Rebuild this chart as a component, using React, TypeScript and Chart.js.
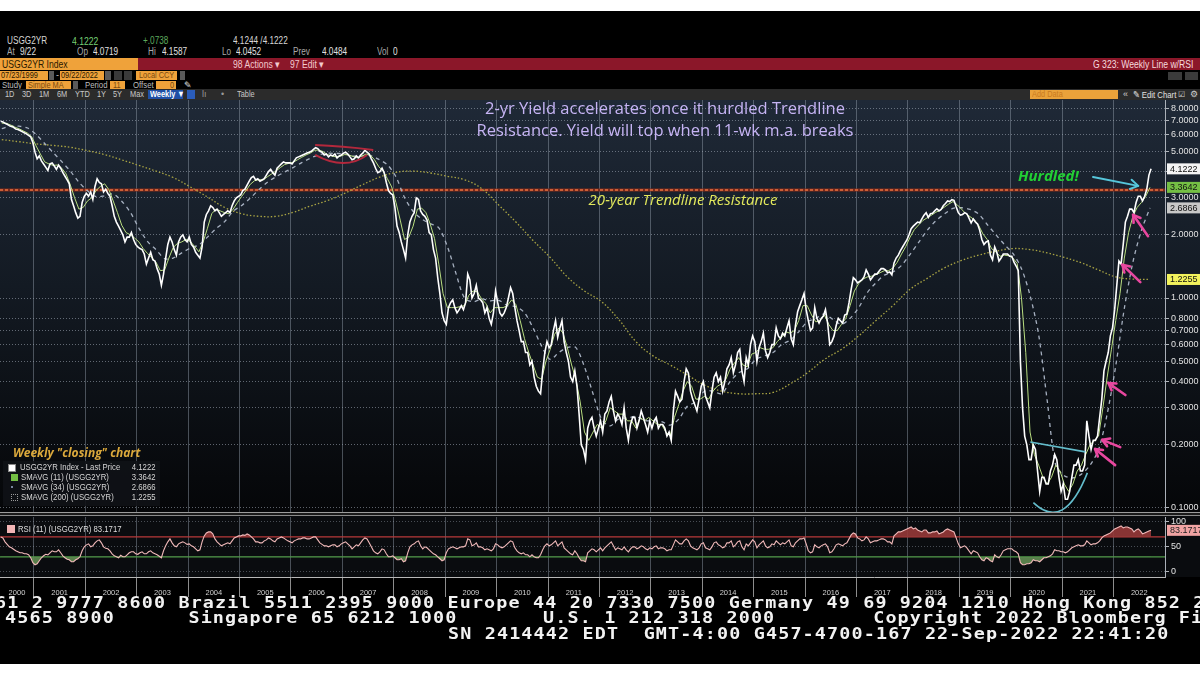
import React, { useEffect, useRef } from 'react';
import { Chart, registerables } from 'chart.js';

Chart.register(...registerables);

// ---------------- data (readings from May 2000 to Sep 2022) ----------------
const START_YEAR = 2000;
const START_MONTH = 5;

// 2-yr yield, two readings per month
const PRICE = [
  6.95, 6.90, 6.80, 6.72, 6.62, 6.55, 6.50, 6.38, 6.35, 6.28, 6.20, 6.12, 6.05, 5.95, 5.85, 5.50,
  4.95, 4.60, 4.75, 4.50, 4.35, 4.20, 4.05, 4.35, 4.40, 4.25, 4.10, 4.30, 4.15, 3.95, 3.80, 3.65, 3.50, 2.95, 2.75, 2.55, 2.40, 2.45, 2.85, 3.05,
  3.15, 3.05, 3.20, 2.95, 3.40, 3.70, 3.55, 3.50, 3.20, 3.30, 3.15, 3.05, 2.75, 2.45, 2.30, 2.20, 2.10, 2.00, 1.85, 1.95, 1.95, 2.05, 1.90, 1.80,
  1.75, 1.72, 1.70, 1.62, 1.45, 1.55, 1.65, 1.52, 1.50, 1.38, 1.30, 1.15, 1.30, 1.55, 1.80, 1.95, 1.85, 1.70, 1.60, 1.85, 1.95, 2.00, 1.90, 1.85,
  1.95, 1.80, 1.75, 1.65, 1.60, 1.55, 1.75, 2.30, 2.50, 2.60, 2.75, 2.70, 2.60, 2.65, 2.55, 2.45, 2.50, 2.55, 2.60, 2.55, 2.75, 2.90, 3.00, 3.05,
  3.10, 3.25, 3.30, 3.45, 3.60, 3.75, 3.80, 3.65, 3.70, 3.60, 3.65, 3.70, 3.85, 4.00, 4.10, 3.95, 3.85, 4.15, 4.25, 4.35, 4.45, 4.40, 4.40, 4.40,
  4.35, 4.50, 4.65, 4.70, 4.75, 4.80, 4.85, 4.90, 4.95, 5.00, 5.10, 5.20, 5.15, 5.00, 4.95, 4.80, 4.85, 4.70, 4.80, 4.75, 4.85, 4.65, 4.75, 4.80,
  4.90, 4.95, 4.85, 4.70, 4.55, 4.60, 4.75, 4.65, 4.80, 4.90, 5.05, 4.95, 4.85, 4.60, 4.40, 4.15, 3.95, 4.00, 4.15, 3.95, 3.55, 3.25, 3.15, 3.10,
  2.70, 2.20, 2.05, 1.85, 1.70, 1.55, 2.00, 2.30, 2.45, 2.55, 3.00, 2.95, 2.60, 2.50, 2.45, 2.35, 2.05, 2.00, 1.70, 1.55, 1.25, 1.05, 0.85, 0.78,
  0.75, 0.90, 0.95, 0.98, 0.90, 0.85, 0.88, 0.92, 0.88, 0.95, 1.30, 1.22, 1.00, 1.05, 1.15, 1.00, 0.98, 0.95, 0.85, 0.90, 0.80, 0.75, 0.85, 1.08,
  0.95, 0.85, 0.82, 0.85, 0.90, 1.00, 1.12, 1.05, 0.90, 0.78, 0.70, 0.62, 0.62, 0.55, 0.55, 0.48, 0.50, 0.42, 0.38, 0.36, 0.35, 0.45, 0.55, 0.62,
  0.58, 0.60, 0.70, 0.78, 0.65, 0.72, 0.78, 0.62, 0.55, 0.50, 0.42, 0.40, 0.45, 0.38, 0.28, 0.20, 0.19, 0.17, 0.24, 0.26, 0.27, 0.24, 0.22, 0.24,
  0.26, 0.23, 0.28, 0.29, 0.32, 0.34, 0.29, 0.26, 0.28, 0.27, 0.25, 0.30, 0.24, 0.21, 0.25, 0.27, 0.27, 0.24, 0.26, 0.29, 0.27, 0.25, 0.23, 0.26,
  0.24, 0.26, 0.27, 0.24, 0.25, 0.25, 0.24, 0.22, 0.23, 0.21, 0.29, 0.36, 0.34, 0.32, 0.33, 0.40, 0.46, 0.44, 0.36, 0.33, 0.31, 0.29, 0.33, 0.38,
  0.40, 0.34, 0.32, 0.30, 0.36, 0.42, 0.44, 0.40, 0.42, 0.36, 0.40, 0.46, 0.48, 0.52, 0.44, 0.48, 0.55, 0.57, 0.45, 0.40, 0.52, 0.48, 0.60, 0.66,
  0.62, 0.50, 0.58, 0.62, 0.68, 0.56, 0.52, 0.55, 0.60, 0.60, 0.72, 0.66, 0.64, 0.68, 0.66, 0.72, 0.78, 0.64, 0.60, 0.74, 0.86, 0.92, 0.98, 1.05,
  0.88, 0.78, 0.70, 0.72, 0.90, 0.80, 0.76, 0.80, 0.82, 0.88, 0.76, 0.60, 0.62, 0.66, 0.74, 0.80, 0.78, 0.76, 0.83, 0.84, 0.95, 1.10, 1.25, 1.22,
  1.18, 1.20, 1.22, 1.26, 1.36, 1.30, 1.22, 1.26, 1.30, 1.30, 1.34, 1.38, 1.38, 1.36, 1.32, 1.33, 1.29, 1.47, 1.55, 1.60, 1.68, 1.75, 1.82, 1.89,
  2.00, 2.14, 2.20, 2.25, 2.30, 2.28, 2.38, 2.48, 2.55, 2.42, 2.52, 2.53, 2.60, 2.66, 2.60, 2.64, 2.75, 2.82, 2.90, 2.88, 2.94, 2.92, 2.72, 2.55,
  2.48, 2.50, 2.55, 2.52, 2.40, 2.28, 2.38, 2.30, 2.25, 2.10, 1.90, 1.80, 1.85, 1.87, 1.60, 1.52, 1.75, 1.65, 1.50, 1.55, 1.62, 1.62, 1.62, 1.58,
  1.58, 1.48, 1.42, 1.35, 0.50, 0.30, 0.22, 0.20, 0.17, 0.17, 0.20, 0.19, 0.15, 0.12, 0.14, 0.14, 0.13, 0.13, 0.15, 0.16, 0.18, 0.17, 0.14, 0.12,
  0.13, 0.11, 0.11, 0.12, 0.14, 0.16, 0.16, 0.17, 0.15, 0.15, 0.16, 0.26, 0.22, 0.19, 0.21, 0.21, 0.22, 0.27, 0.33, 0.45, 0.50, 0.55, 0.66, 0.72,
  0.88, 1.15, 1.50, 1.45, 1.80, 2.30, 2.45, 2.65, 2.65, 2.55, 2.85, 3.05, 3.05, 2.90, 3.05, 3.30, 3.85, 4.1222,
];

// 11-week simple moving average (one reading per month)
const SMA11 = [
  6.80, 6.80, 6.68, 6.52, 6.40, 6.25, 6.10, 5.85,
  5.30, 4.85, 4.45, 4.35, 4.28, 4.30, 4.15, 3.90, 3.45, 3.00, 2.65, 2.70,
  2.90, 3.00, 3.25, 3.40, 3.50, 3.28, 2.90, 2.55, 2.22, 2.05, 2.00, 1.93,
  1.85, 1.72, 1.63, 1.56, 1.48, 1.35, 1.36, 1.55, 1.74, 1.82, 1.85, 1.90,
  1.86, 1.76, 1.66, 1.85, 2.15, 2.52, 2.65, 2.60, 2.55, 2.52, 2.65, 2.85,
  3.05, 3.25, 3.48, 3.62, 3.66, 3.65, 3.78, 3.90, 4.03, 4.18, 4.32, 4.38,
  4.43, 4.55, 4.68, 4.80, 4.90, 5.05, 5.07, 4.98, 4.82, 4.75, 4.70, 4.73,
  4.82, 4.80, 4.72, 4.65, 4.73, 4.85, 4.80, 4.55, 4.22, 4.02, 3.70, 3.38,
  2.85, 2.35, 1.90, 1.95, 2.20, 2.65, 2.68, 2.55, 2.25, 1.92, 1.45, 1.05,
  0.90, 0.90, 0.90, 0.91, 0.92, 1.03, 1.08, 1.07, 0.99, 0.94, 0.85, 0.90,
  0.90, 0.90, 0.92, 0.98, 0.93, 0.78, 0.64, 0.55, 0.48, 0.42, 0.41, 0.50,
  0.57, 0.67, 0.72, 0.68, 0.58, 0.48, 0.41, 0.32, 0.23, 0.21, 0.23, 0.25,
  0.24, 0.26, 0.30, 0.29, 0.28, 0.28, 0.26, 0.26, 0.24, 0.27, 0.26, 0.27,
  0.26, 0.25, 0.25, 0.23, 0.22, 0.27, 0.31, 0.36, 0.40, 0.38, 0.33, 0.33,
  0.34, 0.33, 0.36, 0.38, 0.39, 0.41, 0.46, 0.49, 0.52, 0.48, 0.47, 0.54,
  0.55, 0.58, 0.57, 0.57, 0.58, 0.62, 0.65, 0.69, 0.68, 0.70, 0.78, 0.92,
  0.92, 0.83, 0.77, 0.78, 0.83, 0.75, 0.70, 0.70, 0.75, 0.80, 0.92, 1.08,
  1.17, 1.23, 1.26, 1.27, 1.29, 1.32, 1.35, 1.35, 1.39, 1.48, 1.62, 1.76,
  1.95, 2.12, 2.23, 2.34, 2.41, 2.48, 2.56, 2.62, 2.71, 2.80, 2.88, 2.78,
  2.65, 2.52, 2.44, 2.36, 2.22, 2.02, 1.90, 1.72, 1.66, 1.58, 1.60, 1.59,
  1.55, 1.46, 1.00, 0.55, 0.23, 0.18, 0.16, 0.14, 0.13, 0.14, 0.16, 0.15,
  0.13, 0.12, 0.13, 0.15, 0.16, 0.18, 0.20, 0.21, 0.22, 0.30, 0.42, 0.57,
  0.78, 1.05, 1.55, 2.05, 2.45, 2.70, 2.85, 3.05, 3.3642,
];

// 34-week simple moving average (one reading every 2 months)
const SMA34 = [
  6.40, 6.58, 6.58, 6.45,
  6.01, 5.44, 4.93, 4.46, 4.02, 3.56,
  3.24, 3.04, 3.07, 3.13, 2.89, 2.56,
  2.15, 1.86, 1.70, 1.54, 1.55, 1.64,
  1.73, 1.79, 1.95, 2.14, 2.31, 2.59,
  2.76, 2.99, 3.28, 3.56, 3.78, 3.98,
  4.18, 4.41, 4.63, 4.81, 4.89, 4.88,
  4.86, 4.74, 4.75, 4.77, 4.57, 4.31,
  3.78, 3.01, 2.59, 2.38, 2.26, 2.16,
  1.76, 1.31, 1.00, 0.96, 0.99, 0.97,
  0.975, 0.92, 0.91, 0.85, 0.72, 0.59,
  0.51, 0.55, 0.58, 0.58, 0.47, 0.35,
  0.265, 0.246, 0.266, 0.268, 0.273, 0.261,
  0.26, 0.258, 0.248, 0.265, 0.305, 0.32,
  0.36, 0.36, 0.35, 0.40, 0.44, 0.46,
  0.51, 0.53, 0.55, 0.60, 0.63, 0.69,
  0.77, 0.80, 0.84, 0.79, 0.75, 0.80,
  0.90, 1.06, 1.18, 1.285, 1.33, 1.43,
  1.615, 1.84, 2.10, 2.33, 2.51, 2.67,
  2.69, 2.64, 2.51, 2.24, 2.005, 1.80,
  1.63, 1.38, 1.03, 0.67, 0.325, 0.16,
  0.1425, 0.139, 0.145, 0.16, 0.19, 0.28,
  0.475, 0.89, 1.48, 2.10, 2.6866,
];

// 200-week simple moving average (one reading every 4 months)
const SMA200 = [
  5.68, 5.55,
  5.42, 5.33, 5.22,
  5.03, 4.82, 4.55,
  4.28, 4.02, 3.75,
  3.38, 3.03, 2.70,
  2.52, 2.45, 2.45,
  2.56, 2.74, 2.91,
  3.15, 3.45, 3.75,
  3.97, 4.02, 3.94,
  3.80, 3.66, 3.32,
  2.77, 2.30, 1.88,
  1.56, 1.26, 1.08,
  0.96, 0.79, 0.62,
  0.53, 0.48, 0.43,
  0.385, 0.36, 0.35,
  0.35, 0.355, 0.39,
  0.44, 0.51, 0.57,
  0.66, 0.78, 0.92,
  1.10, 1.24, 1.39,
  1.51, 1.60, 1.67,
  1.72, 1.70, 1.64,
  1.56, 1.47, 1.36,
  1.26, 1.23, 1.2255,
];

// 11-period RSI, two readings per month
const RSI = [
  70, 68, 60, 55, 50, 48, 45, 42, 40, 38, 38, 36, 36, 34, 28, 18,
  14, 16, 22, 28, 32, 35, 34, 38, 42, 40, 40, 44, 38, 32, 28, 25, 24, 20, 20, 24, 26, 30, 42, 50,
  54, 56, 50, 52, 58, 62, 64, 58, 50, 47, 46, 42, 36, 32, 30, 28, 33, 30, 30, 34, 38, 40, 40, 36,
  35, 38, 40, 36, 36, 40, 42, 38, 36, 34, 31, 28, 42, 52, 60, 66, 58, 52, 50, 56, 58, 60, 58, 55,
  56, 52, 50, 46, 42, 44, 60, 72, 78, 80, 80, 76, 66, 60, 56, 52, 54, 56, 58, 56, 62, 68, 70, 72,
  72, 74, 73, 76, 74, 70, 66, 60, 60, 58, 58, 62, 64, 68, 66, 62, 60, 66, 68, 70, 68, 65, 62, 60,
  58, 62, 64, 66, 66, 68, 68, 66, 66, 68, 70, 70, 64, 58, 55, 52, 52, 50, 52, 54, 54, 50, 52, 56,
  58, 60, 56, 52, 46, 50, 54, 52, 58, 64, 68, 66, 58, 50, 42, 38, 36, 40, 46, 44, 36, 30, 30, 32,
  28, 24, 24, 26, 20, 22, 38, 50, 54, 56, 60, 62, 52, 46, 50, 48, 44, 40, 36, 34, 30, 26, 22, 24,
  38, 46, 48, 50, 48, 46, 48, 50, 50, 52, 66, 64, 52, 54, 58, 50, 50, 48, 44, 46, 44, 42, 46, 56,
  54, 50, 48, 50, 54, 58, 62, 60, 48, 42, 38, 36, 38, 34, 34, 30, 34, 30, 28, 28, 34, 44, 52, 56,
  52, 54, 58, 62, 52, 56, 60, 48, 44, 40, 36, 34, 42, 36, 28, 22, 22, 20, 38, 42, 46, 44, 40, 44,
  48, 42, 48, 52, 56, 60, 52, 44, 48, 46, 44, 50, 44, 40, 46, 50, 50, 46, 48, 52, 50, 46, 44, 48,
  46, 50, 52, 46, 48, 48, 46, 42, 44, 44, 54, 64, 60, 56, 56, 62, 66, 62, 52, 48, 46, 44, 48, 56,
  58, 48, 46, 44, 50, 58, 60, 54, 52, 48, 50, 58, 58, 62, 50, 54, 60, 62, 50, 44, 56, 52, 58, 64,
  60, 48, 54, 58, 62, 52, 48, 50, 56, 54, 62, 58, 54, 58, 56, 60, 64, 52, 50, 58, 62, 66, 66, 68,
  56, 42, 38, 40, 54, 50, 48, 52, 54, 56, 50, 38, 40, 46, 54, 56, 54, 52, 56, 58, 66, 74, 78, 76,
  68, 66, 62, 64, 70, 66, 58, 60, 62, 62, 64, 66, 66, 64, 60, 60, 56, 72, 76, 80, 80, 82, 84, 86,
  88, 90, 86, 88, 84, 82, 80, 84, 84, 78, 78, 80, 80, 82, 76, 78, 80, 84, 86, 84, 82, 80, 68, 56,
  48, 50, 52, 48, 42, 36, 42, 40, 38, 30, 24, 22, 28, 26, 22, 20, 34, 30, 28, 34, 42, 44, 46, 46,
  46, 42, 40, 36, 18, 14, 14, 16, 16, 18, 24, 22, 22, 20, 24, 28, 28, 30, 32, 36, 44, 42, 42, 40,
  40, 38, 40, 44, 48, 50, 52, 54, 52, 52, 54, 62, 58, 54, 56, 56, 58, 62, 68, 72, 74, 76, 78, 82,
  86, 88, 90, 92, 88, 90, 90, 88, 86, 80, 84, 86, 82, 76, 78, 80, 82, 83.1717,
];

const PRICE_TICKS = [0.1, 0.2, 0.3, 0.4, 0.5, 0.6, 0.7, 0.8, 1, 2, 3, 4, 5, 6, 7, 8];
const RSI_TICKS = [0, 50, 100];
const YEARS = [2000, 2001, 2002, 2003, 2004, 2005, 2006, 2007, 2008, 2009, 2010, 2011,
  2012, 2013, 2014, 2015, 2016, 2017, 2018, 2019, 2020, 2021, 2022];

const TRENDLINE = 3.27;
const RSI_OVERBOUGHT = 70;
const RSI_OVERSOLD = 30;

// annotation anchors in data units (year, yield)
const PINK_ARROWS = [
  [2022.67, 1.97, 2022.38, 2.49],
  [2022.52, 1.19, 2022.17, 1.44],
  [2022.23, 0.345, 2021.90, 0.394],
  [2022.13, 0.195, 2021.78, 0.211],
  [2022.03, 0.160, 2021.64, 0.191],
];
const HURDLED_ARROW = [2021.60, 3.77, 2022.48, 3.42];
const RED_TOP = [[2006.47, 5.35], [2007.01, 5.25], [2007.60, 5.07]];
const RED_BOTTOM = [[2006.47, 4.80], [2007.01, 4.39], [2007.48, 4.80]];
const CYAN_LINE = [[2020.38, 0.206], [2021.45, 0.185]];
const CYAN_ARC = [[2020.44, 0.106], [2021.0, 0.098], [2021.49, 0.147]];

// ---------------- layout constants ----------------
const X_MIN = 2000.34;
const X_MAX = 2023.0;
const Y_MIN = 0.0957;
const Y_MAX = 8.77;
const RSI_MIN = -10.66;
const RSI_MAX = 110;

const FONT_UI = "'Liberation Sans', Arial, sans-serif";
const FONT_TITLE = "'Open Sans', 'Noto Sans', sans-serif";
const FONT_MONO = "'DejaVu Sans Mono', 'Liberation Mono', monospace";

const monthX = (i: number) => START_YEAR + (START_MONTH - 1 + i + 0.5) / 12;
const halfX = (i: number) => START_YEAR + (START_MONTH - 1 + (i + 0.5) / 2) / 12;
const toPts = (arr: number[], step: number) => arr.map((v, i) => ({ x: monthX(i * step), y: v }));
const toHalfPts = (arr: number[]) => arr.map((v, i) => ({ x: halfX(i), y: v }));
const last = (a: number[]) => a[a.length - 1];

// ---------------- plugins ----------------
const mainBg = {
  id: 'mainBg',
  beforeDraw(chart: any) {
    const { ctx, width, height } = chart;
    const g = ctx.createLinearGradient(0, 0, 0, height);
    g.addColorStop(0, '#1f2937');
    g.addColorStop(0.45, '#131a23');
    g.addColorStop(1, '#050608');
    ctx.save();
    ctx.fillStyle = g;
    ctx.fillRect(0, 0, width, height);
    ctx.restore();
  },
};

const rsiBg = {
  id: 'rsiBg',
  beforeDraw(chart: any) {
    const { ctx, width, height, chartArea } = chart;
    ctx.save();
    ctx.fillStyle = '#000000';
    ctx.fillRect(0, 0, width, height);
    ctx.fillStyle = '#0a0c0f';
    ctx.fillRect(0, 0, width, chartArea.bottom);
    ctx.restore();
  },
};

const trendPlugin = {
  id: 'trend',
  beforeDatasetsDraw(chart: any) {
    const { ctx, chartArea, scales } = chart;
    const y = scales.y.getPixelForValue(TRENDLINE);
    ctx.save();
    ctx.strokeStyle = '#7a2a1c';
    ctx.lineWidth = 3;
    ctx.beginPath();
    ctx.moveTo(chartArea.left, y);
    ctx.lineTo(chartArea.right, y);
    ctx.stroke();
    ctx.strokeStyle = '#e8703f';
    ctx.lineWidth = 1.6;
    ctx.setLineDash([3, 2]);
    ctx.beginPath();
    ctx.moveTo(chartArea.left, y);
    ctx.lineTo(chartArea.right, y);
    ctx.stroke();
    ctx.restore();
  },
};

function drawArrow(ctx: any, x1: number, y1: number, x2: number, y2: number, color: string, w: number, head: number) {
  ctx.save();
  ctx.strokeStyle = color;
  ctx.lineWidth = w;
  ctx.lineCap = 'round';
  ctx.lineJoin = 'round';
  ctx.beginPath();
  ctx.moveTo(x1, y1);
  ctx.lineTo(x2, y2);
  ctx.stroke();
  const a = Math.atan2(y2 - y1, x2 - x1);
  ctx.beginPath();
  ctx.moveTo(x2 - head * Math.cos(a - 0.55), y2 - head * Math.sin(a - 0.55));
  ctx.lineTo(x2, y2);
  ctx.lineTo(x2 - head * Math.cos(a + 0.55), y2 - head * Math.sin(a + 0.55));
  ctx.stroke();
  ctx.restore();
}

const annotPlugin = {
  id: 'annot',
  afterDatasetsDraw(chart: any) {
    const { ctx, scales } = chart;
    const P = (a: number, b: number) => [scales.x.getPixelForValue(a), scales.y.getPixelForValue(b)];
    const quad = (pts: number[][], color: string, w: number) => {
      const [p0, p1, p2] = pts.map(([a, b]) => P(a, b));
      const cx = 2 * p1[0] - (p0[0] + p2[0]) / 2;
      const cy = 2 * p1[1] - (p0[1] + p2[1]) / 2;
      ctx.save();
      ctx.strokeStyle = color;
      ctx.lineWidth = w;
      ctx.beginPath();
      ctx.moveTo(p0[0], p0[1]);
      ctx.quadraticCurveTo(cx, cy, p2[0], p2[1]);
      ctx.stroke();
      ctx.restore();
    };
    quad(RED_TOP, '#b3283c', 2);
    quad(RED_BOTTOM, '#b3283c', 2);
    const [c0, c1] = CYAN_LINE.map(([a, b]) => P(a, b));
    ctx.save();
    ctx.strokeStyle = '#63bccb';
    ctx.lineWidth = 1.6;
    ctx.beginPath();
    ctx.moveTo(c0[0], c0[1]);
    ctx.lineTo(c1[0], c1[1]);
    ctx.stroke();
    ctx.restore();
    quad(CYAN_ARC, '#63bccb', 1.6);
    PINK_ARROWS.forEach(([xa, ya, xb, yb]) => {
      const [t0, t1] = P(xa, ya);
      const [h0, h1] = P(xb, yb);
      drawArrow(ctx, t0, t1, h0, h1, '#e8479f', 2.6, 8);
    });
    const [a0, a1] = P(HURDLED_ARROW[0], HURDLED_ARROW[1]);
    const [b0, b1] = P(HURDLED_ARROW[2], HURDLED_ARROW[3]);
    drawArrow(ctx, a0, a1, b0, b1, '#56c6da', 2, 9);
  },
};

function valueBox(ctx: any, x: number, w: number, y: number, bg: string, fg: string, text: string) {
  ctx.save();
  ctx.fillStyle = bg;
  ctx.fillRect(x, y - 5.5, w, 11);
  ctx.fillStyle = fg;
  ctx.font = `9px ${FONT_UI}`;
  ctx.textBaseline = 'middle';
  ctx.textAlign = 'left';
  ctx.fillText(text, x + 3, y + 0.5);
  ctx.restore();
}

const mainLabels = {
  id: 'mainLabels',
  afterDraw(chart: any) {
    const { ctx, chartArea, scales, width } = chart;
    const x = chartArea.right + 2;
    const w = width - x;
    const items = [
      { v: last(SMA200), bg: '#f2f25c', fg: '#111' },
      { v: last(SMA34), bg: '#c8c8c8', fg: '#111' },
      { v: last(SMA11), bg: '#74bf44', fg: '#111' },
      { v: last(PRICE), bg: '#f4f4f4', fg: '#111' },
    ];
    items.forEach((it) => valueBox(ctx, x, w, scales.y.getPixelForValue(it.v), it.bg, it.fg, it.v.toFixed(4)));
  },
};

const rsiExtras = {
  id: 'rsiExtras',
  beforeDatasetsDraw(chart: any) {
    const { ctx, chartArea, scales } = chart;
    const lines = [
      { v: RSI_OVERBOUGHT, c: '#b8393a' },
      { v: RSI_OVERSOLD, c: '#4f9a48' },
    ];
    ctx.save();
    lines.forEach((l) => {
      const y = scales.y.getPixelForValue(l.v);
      ctx.strokeStyle = l.c;
      ctx.lineWidth = 1.2;
      ctx.beginPath();
      ctx.moveTo(chartArea.left, y);
      ctx.lineTo(chartArea.right, y);
      ctx.stroke();
    });
    ctx.restore();
  },
  afterDraw(chart: any) {
    const { ctx, chartArea, scales, width } = chart;
    ctx.save();
    ctx.fillStyle = '#d2d2d2';
    ctx.font = `7.5px ${FONT_UI}`;
    ctx.textAlign = 'center';
    ctx.textBaseline = 'middle';
    YEARS.forEach((yr) => {
      const a = Math.max(yr, X_MIN);
      const b = Math.min(yr + 1, X_MAX);
      const cx = (scales.x.getPixelForValue(a) + scales.x.getPixelForValue(b)) / 2;
      ctx.fillText(String(yr), cx, chartArea.bottom + 16);
    });
    ctx.restore();
    const x = chartArea.right + 2;
    const v = last(RSI);
    valueBox(ctx, x, width - x, scales.y.getPixelForValue(v), '#f0a3a3', '#222', v.toFixed(4));
  },
};

// ---------------- chart configs ----------------
function mainConfig(): any {
  return {
    type: 'line',
    data: {
      datasets: [
        { label: 'USGG2YR Index - Last Price', data: toHalfPts(PRICE), borderColor: '#ffffff', borderWidth: 1.6, pointRadius: 0, tension: 0 },
        { label: 'SMAVG (11)', data: toPts(SMA11, 1), borderColor: '#b9de80', borderWidth: 1, pointRadius: 0, tension: 0 },
        { label: 'SMAVG (34)', data: toPts(SMA34, 2), borderColor: '#a6b0c0', borderWidth: 1.3, borderDash: [4, 4], pointRadius: 0, tension: 0.3 },
        { label: 'SMAVG (200)', data: toPts(SMA200, 4), borderColor: '#a9a443', borderWidth: 1.3, borderDash: [1.5, 2], pointRadius: 0, tension: 0.4 },
      ],
    },
    options: {
      animation: false,
      responsive: false,
      maintainAspectRatio: false,
      layout: { padding: 0 },
      plugins: { legend: { display: false }, tooltip: { enabled: false } },
      scales: {
        x: {
          type: 'linear',
          min: X_MIN,
          max: X_MAX,
          afterBuildTicks: (s: any) => { s.ticks = YEARS.filter((y) => y > X_MIN && y < X_MAX).map((v) => ({ value: v })); },
          afterFit: (s: any) => { s.height = 0; s.paddingLeft = 0; s.paddingRight = 0; },
          ticks: { display: false },
          grid: { color: 'rgba(150,162,176,0.45)', lineWidth: 1, drawTicks: false },
          border: { display: false },
        },
        y: {
          type: 'logarithmic',
          position: 'right',
          min: Y_MIN,
          max: Y_MAX,
          afterBuildTicks: (s: any) => { s.ticks = PRICE_TICKS.map((v) => ({ value: v })); },
          afterFit: (s: any) => { s.width = 35; s.paddingTop = 0; s.paddingBottom = 0; },
          ticks: {
            autoSkip: false,
            color: '#e2e2e2',
            padding: 2,
            font: { size: 9, family: FONT_UI },
            callback: (v: any) => (Number(v) === 4 ? '' : Number(v).toFixed(4)),
          },
          grid: { color: 'rgba(165,175,188,0.55)', lineWidth: 1, tickLength: 4, tickColor: '#b0b4ba', tickBorderDash: [] },
          border: { display: true, color: '#aab0b8', dash: [1, 2] },
        },
      },
    },
    plugins: [mainBg, trendPlugin, annotPlugin, mainLabels],
  };
}

function rsiConfig(): any {
  const pts = toHalfPts(RSI);
  return {
    type: 'line',
    data: {
      datasets: [
        {
          label: 'RSI (11)', data: pts, borderColor: '#f2baba', borderWidth: 1.1, pointRadius: 0, tension: 0,
          fill: { target: { value: RSI_OVERBOUGHT }, above: 'rgba(150,56,56,0.9)', below: 'rgba(0,0,0,0)' },
        },
        {
          label: 'RSI low', data: pts, borderColor: 'rgba(0,0,0,0)', borderWidth: 0, pointRadius: 0, tension: 0,
          fill: { target: { value: RSI_OVERSOLD }, above: 'rgba(0,0,0,0)', below: 'rgba(96,140,82,0.9)' },
        },
      ],
    },
    options: {
      animation: false,
      responsive: false,
      maintainAspectRatio: false,
      layout: { padding: { top: 1, left: 0, right: 0, bottom: 0 } },
      plugins: { legend: { display: false }, tooltip: { enabled: false } },
      scales: {
        x: {
          type: 'linear',
          min: X_MIN,
          max: X_MAX,
          afterBuildTicks: (s: any) => { s.ticks = YEARS.filter((y) => y > X_MIN && y < X_MAX).map((v) => ({ value: v })); },
          afterFit: (s: any) => { s.height = 23; s.paddingLeft = 0; s.paddingRight = 0; },
          ticks: { display: false },
          grid: { color: 'rgba(150,162,176,0.45)', lineWidth: 1, drawTicks: true, tickLength: 20, tickColor: '#8c8c8c' },
          border: { display: true, color: '#b8b8b8', width: 1 },
        },
        y: {
          type: 'linear',
          position: 'right',
          min: RSI_MIN,
          max: RSI_MAX,
          afterBuildTicks: (s: any) => { s.ticks = RSI_TICKS.map((v) => ({ value: v })); },
          afterFit: (s: any) => { s.width = 35; s.paddingTop = 0; s.paddingBottom = 0; },
          ticks: { autoSkip: false, color: '#e2e2e2', padding: 2, font: { size: 9, family: FONT_UI }, callback: (v: any) => String(v) },
          grid: { color: 'rgba(165,175,188,0.4)', lineWidth: 1, tickLength: 4, tickColor: '#b0b4ba', tickBorderDash: [] },
          border: { display: true, color: '#aab0b8', dash: [1, 2] },
        },
      },
    },
    plugins: [rsiBg, rsiExtras],
  };
}

// ---------------- small html helpers ----------------
type TP = { x: number; y: number; t: string; c?: string; s?: number; f?: string; w?: any; i?: boolean; sx?: number; right?: boolean; ls?: number };
function Txt(p: TP) {
  const size = p.s ?? 10;
  const style: any = {
    position: 'absolute',
    top: p.y - size * 0.6,
    whiteSpace: 'pre',
    lineHeight: `${size * 1.2}px`,
    fontSize: size,
    fontFamily: p.f ?? FONT_UI,
    color: p.c ?? '#d8d8d8',
    fontWeight: p.w ?? 'normal',
    fontStyle: p.i ? 'italic' : 'normal',
    letterSpacing: p.ls ?? 0,
    transform: p.sx ? `scaleX(${p.sx})` : undefined,
    transformOrigin: p.right ? 'right center' : 'left center',
  };
  if (p.right) style.right = 1200 - p.x; else style.left = p.x;
  return <div style={style}>{p.t}</div>;
}

function Box(p: { x: number; y: number; w: number; h: number; bg: string; border?: string }) {
  return <div style={{ position: 'absolute', left: p.x, top: p.y, width: p.w, height: p.h, background: p.bg, border: p.border, boxSizing: 'border-box' }} />;
}

const ORANGE = '#efa23a';
const DARK = '#2a1800';
const GRAY = '#a9a9a9';
const SX = 0.82;

const FOOTER_1 = '61 2 9777 8600 Brazil 5511 2395 9000 Europe 44 20 7330 7500 Germany 49 69 9204 1210 Hong Kong 852 2977 6000';
const FOOTER_2 = '4565 8900      Singapore 65 6212 1000       U.S. 1 212 318 2000        Copyright 2022 Bloomberg Finance L.P.';
const FOOTER_3 = 'SN 2414442 EDT  GMT-4:00 G457-4700-167 22-Sep-2022 22:41:20';

export default function App() {
  const mainRef = useRef<HTMLCanvasElement>(null);
  const rsiRef = useRef<HTMLCanvasElement>(null);

  useEffect(() => {
    const main = new Chart(mainRef.current as HTMLCanvasElement, mainConfig());
    const rsi = new Chart(rsiRef.current as HTMLCanvasElement, rsiConfig());
    return () => {
      main.destroy();
      rsi.destroy();
    };
  }, []);

  const legendRows = [
    { t: 'USGG2YR Index - Last Price', v: last(PRICE) },
    { t: 'SMAVG (11) (USGG2YR)', v: last(SMA11) },
    { t: 'SMAVG (34) (USGG2YR)', v: last(SMA34) },
    { t: 'SMAVG (200) (USGG2YR)', v: last(SMA200) },
  ];

  return (
    <div style={{ position: 'fixed', left: 0, top: 0, width: 1200, height: 675, background: '#ffffff', overflow: 'hidden' }}>
      <div style={{ position: 'absolute', left: 0, top: 11, width: 1200, height: 653, background: '#000000' }} />

      {/* header rows */}
      <Txt x={7} y={41} t="USGG2YR" c="#d6d6d6" sx={SX} />
      <Txt x={72} y={41} t="4.1222" c="#74cf74" sx={SX} s={10.5} />
      <Txt x={143} y={41} t="+.0738" c="#5da95d" sx={SX} />
      <Txt x={233} y={41} t="4.1244 /4.1222" c="#d6d6d6" sx={SX} />
      <Txt x={7} y={52} t="At" c={GRAY} sx={SX} />
      <Txt x={20} y={52} t="9/22" c="#e0e0e0" sx={SX} />
      <Txt x={77} y={52} t="Op" c={GRAY} sx={SX} />
      <Txt x={93} y={52} t="4.0719" c="#e0e0e0" sx={SX} />
      <Txt x={148} y={52} t="Hi" c={GRAY} sx={SX} />
      <Txt x={162} y={52} t="4.1587" c="#e0e0e0" sx={SX} />
      <Txt x={222} y={52} t="Lo" c={GRAY} sx={SX} />
      <Txt x={236} y={52} t="4.0452" c="#e0e0e0" sx={SX} />
      <Txt x={293} y={52} t="Prev" c={GRAY} sx={SX} />
      <Txt x={322} y={52} t="4.0484" c="#e0e0e0" sx={SX} />
      <Txt x={377} y={52} t="Vol" c={GRAY} sx={SX} />
      <Txt x={393} y={52} t="0" c="#e0e0e0" sx={SX} />

      <Box x={0} y={58} w={138} h={12} bg={ORANGE} />
      <Box x={138} y={58} w={1062} h={12} bg="#8b1729" />
      <Txt x={2} y={64} t="USGG2YR Index" c={DARK} sx={SX} s={10.5} />
      <Txt x={233} y={64} t="98 Actions ▾" c="#f3c9cd" sx={SX} s={10.5} />
      <Txt x={290} y={64} t="97 Edit ▾" c="#f3c9cd" sx={SX} s={10.5} />
      <Txt x={1193} y={64} t="G 323: Weekly Line w/RSI" c="#f6dade" sx={SX} s={10.5} right />

      <Box x={0} y={71} w={48} h={9} bg={ORANGE} />
      <Txt x={1} y={75.5} t="07/23/1999" c={DARK} sx={SX} s={9} />
      <Box x={49} y={71} w={5} h={9} bg="#5a5a5a" />
      <Txt x={56} y={75.5} t="-" c="#cccccc" s={9} />
      <Box x={60} y={71} w={44} h={9} bg={ORANGE} />
      <Txt x={61} y={75.5} t="09/22/2022" c={DARK} sx={SX} s={9} />
      <Box x={105} y={71} w={6} h={9} bg="#5a5a5a" />
      <Box x={114} y={71} w={8} h={9} bg="#3a3a3a" />
      <Box x={124} y={71} w={8} h={9} bg="#3a3a3a" />
      <Box x={136} y={71} w={41} h={9} bg={ORANGE} />
      <Txt x={139} y={75.5} t="Local CCY" c="#7a4a10" sx={SX} s={9} />
      <Box x={180} y={71} w={5} h={9} bg="#5a5a5a" />
      <Box x={1168} y={72} w={14} h={8} bg="#3b3b3b" />
      <Box x={1185} y={72} w={13} h={8} bg="#3b3b3b" />

      <Txt x={2} y={85} t="Study" c="#bdbdbd" sx={SX} s={9.5} />
      <Box x={26} y={81} w={45} h={9} bg={ORANGE} />
      <Txt x={28} y={85.5} t="Simple MA" c="#7a4a10" sx={SX} s={9} />
      <Box x={73} y={81} w={5} h={9} bg="#5a5a5a" />
      <Txt x={85} y={85} t="Period" c="#bdbdbd" sx={SX} s={9.5} />
      <Box x={110} y={81} w={15} h={9} bg={ORANGE} />
      <Txt x={113} y={85.5} t="11" c="#7a4a10" sx={SX} s={9} />
      <Txt x={133} y={85} t="Offset" c="#bdbdbd" sx={SX} s={9.5} />
      <Box x={156} y={81} w={20} h={9} bg={ORANGE} />
      <Txt x={170} y={85.5} t="0" c="#7a4a10" sx={SX} s={9} />
      <Txt x={184} y={85} t="✎" c="#e8e8e8" s={9} />

      <Box x={0} y={89} w={1200} h={11} bg="#2b2b2b" />
      <Txt x={5} y={94.5} t="1D" c="#c8c8c8" sx={SX} s={9} />
      <Txt x={22} y={94.5} t="3D" c="#c8c8c8" sx={SX} s={9} />
      <Txt x={39} y={94.5} t="1M" c="#c8c8c8" sx={SX} s={9} />
      <Txt x={57} y={94.5} t="6M" c="#c8c8c8" sx={SX} s={9} />
      <Txt x={75} y={94.5} t="YTD" c="#c8c8c8" sx={SX} s={9} />
      <Txt x={97} y={94.5} t="1Y" c="#c8c8c8" sx={SX} s={9} />
      <Txt x={113} y={94.5} t="5Y" c="#c8c8c8" sx={SX} s={9} />
      <Txt x={130} y={94.5} t="Max" c="#c8c8c8" sx={SX} s={9} />
      <Box x={148} y={90} w={35} h={9} bg="#2050a6" />
      <Txt x={150} y={94.5} t="Weekly ▼" c="#ffffff" sx={SX} s={9} w="bold" />
      <Box x={187} y={90} w={8} h={9} bg="#2b5cb8" />
      <Txt x={202} y={94.5} t="lı" c="#9a9a9a" s={9} />
      <Txt x={221} y={94.5} t="•" c="#9a9a9a" s={9} />
      <Txt x={237} y={94.5} t="Table" c="#c8c8c8" sx={SX} s={9} />
      <Box x={1030} y={90} w={88} h={9} bg="#eaa23a" />
      <Txt x={1032} y={94.5} t="Add Data" c="#c97a1e" sx={SX} s={9} />
      <Txt x={1123} y={94.5} t="«" c="#cfcfcf" s={9} />
      <Txt x={1133} y={94.5} t="✎ Edit Chart" c="#e0e0e0" sx={SX} s={9.5} />
      <Txt x={1178} y={94.5} t="☑" c="#cfcfcf" s={8} />
      <Txt x={1190} y={94.5} t="⚙" c="#cfcfcf" s={8.5} />

      {/* charts */}
      <canvas ref={mainRef} width={1200} height={412} style={{ position: 'absolute', left: 0, top: 100, width: 1200, height: 412 }} />
      <div style={{ position: 'absolute', left: 0, top: 512, width: 1200, height: 4, background: '#1a1a1a', borderTop: '1px solid #9c9c9c', borderBottom: '1px solid #8a8a8a', boxSizing: 'border-box' }} />
      <canvas ref={rsiRef} width={1200} height={84} style={{ position: 'absolute', left: 0, top: 516, width: 1200, height: 84 }} />

      {/* annotations */}
      <div style={{ position: 'absolute', left: 365, top: 97, width: 600, textAlign: 'center', fontFamily: FONT_TITLE, fontSize: 16.5, lineHeight: '22px', color: '#c6b4f4', whiteSpace: 'pre' }}>
        {'2-yr Yield accelerates once it hurdled Trendline\nResistance. Yield will top when 11-wk m.a. breaks'}
      </div>
      <div style={{ position: 'absolute', left: 533, top: 188, width: 300, textAlign: 'center', fontFamily: FONT_TITLE, fontSize: 15, lineHeight: '22px', fontStyle: 'italic', color: '#e2e85c', whiteSpace: 'pre' }}>
        20-year Trendline Resistance
      </div>
      <Txt x={1018} y={175} t="Hurdled!" c="#22cf34" f={FONT_TITLE} s={15} w="bold" i />

      {/* legend */}
      <Txt x={13} y={453} t={'Weekly "closing" chart'} c="#dba93c" f={FONT_TITLE} s={12} w="bold" i />
      <div style={{ position: 'absolute', left: 3, top: 461, width: 157, height: 45, background: 'rgba(16,18,22,0.9)' }} />
      <Box x={8} y={463.5} w={8} h={8} bg="#ffffff" border="1px solid #888" />
      <Box x={11} y={473.5} w={7} h={7} bg="#74bf44" />
      <Box x={11} y={486} w={2} h={2} bg="#7a86a0" />
      <Box x={11} y={493.5} w={7} h={7} bg="transparent" border="1px dotted #9a9a9a" />
      {legendRows.map((r, i) => (
        <React.Fragment key={r.t}>
          <Txt x={i === 0 ? 20 : 21} y={467.5 + i * 10} t={r.t} c="#d6d6d6" s={9} sx={0.86} />
          <Txt x={156} y={467.5 + i * 10} t={r.v.toFixed(4)} c="#d6d6d6" s={9} sx={0.86} right />
        </React.Fragment>
      ))}
      <Box x={7} y={525} w={8} h={8} bg="#f2b5b5" />
      <Txt x={18} y={529.5} t={`RSI (11) (USGG2YR) ${last(RSI).toFixed(4)}`} c="#dedede" s={9} sx={0.86} />

      {/* footer */}
      <Txt x={-5} y={603} t={FOOTER_1} c="#f2f2f2" f={FONT_MONO} s={16} w="bold" sx={1.15} ls={1} />
      <Txt x={5} y={618} t={FOOTER_2} c="#f2f2f2" f={FONT_MONO} s={16} w="bold" sx={1.15} ls={1} />
      <Txt x={448} y={634} t={FOOTER_3} c="#f2f2f2" f={FONT_MONO} s={16} w="bold" sx={1.15} ls={1} />
    </div>
  );
}
